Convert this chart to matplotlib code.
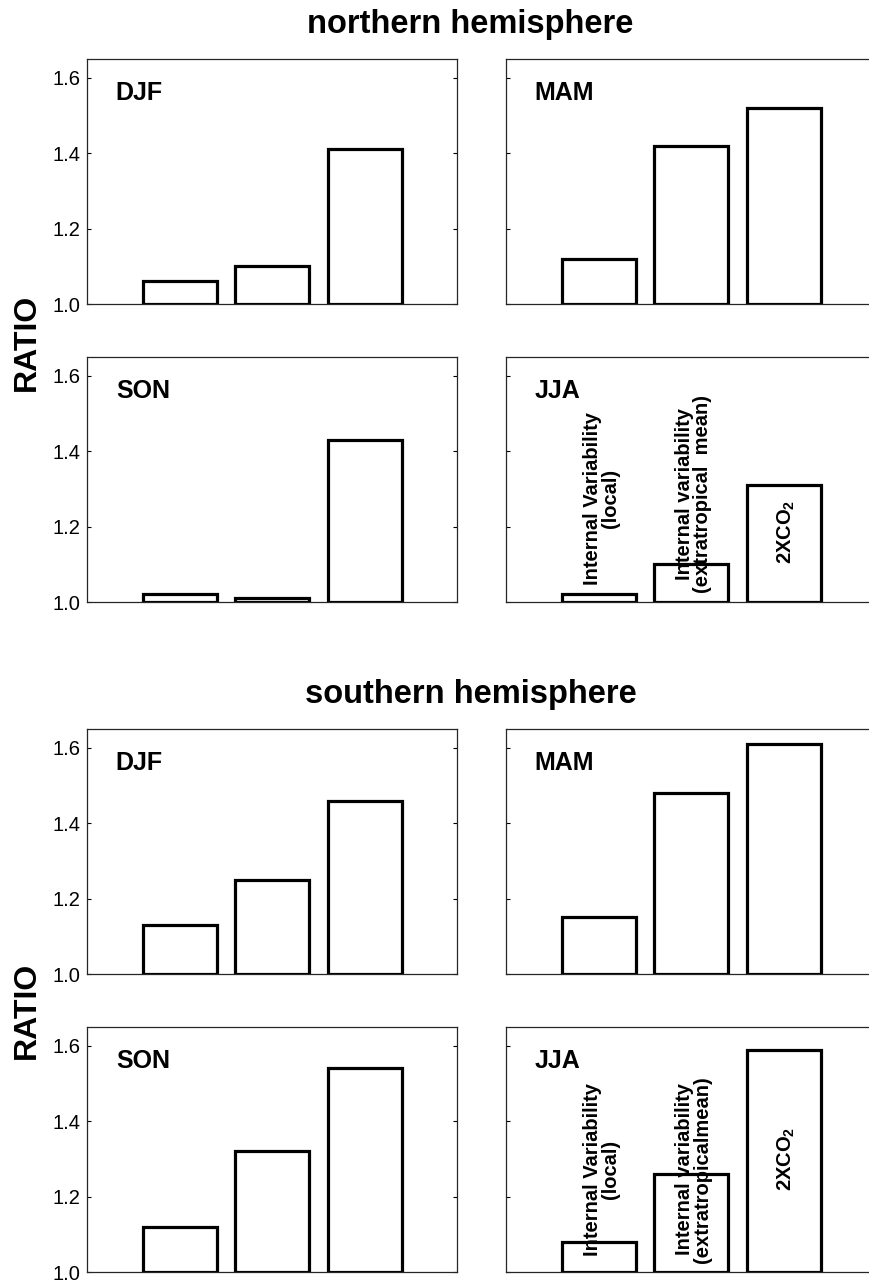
import numpy as np
import matplotlib
matplotlib.use('Agg')
import matplotlib.pyplot as plt

plt.rcParams['font.family'] = ['Liberation Sans', 'DejaVu Sans']
plt.rcParams['mathtext.fontset'] = 'custom'
plt.rcParams['mathtext.bf'] = 'Liberation Sans:bold'
plt.rcParams['mathtext.rm'] = 'Liberation Sans'

# Data: ratio for each season, three bars each
seasons = ['DJF', 'MAM', 'SON', 'JJA']
nh_vals = {
    'DJF': [1.06, 1.10, 1.41],
    'MAM': [1.12, 1.42, 1.52],
    'SON': [1.02, 1.01, 1.43],
    'JJA': [1.02, 1.10, 1.31],
}
sh_vals = {
    'DJF': [1.13, 1.25, 1.46],
    'MAM': [1.15, 1.48, 1.61],
    'SON': [1.12, 1.32, 1.54],
    'JJA': [1.08, 1.26, 1.59],
}
yticks = [1.0, 1.2, 1.4, 1.6]
nh_bar_labels = ['Internal Variability\n(local)',
                 'Internal variability\n(extratropical  mean)',
                 r'$\mathbf{2XCO_2}$']
sh_bar_labels = ['Internal Variability\n(local)',
                 'Internal variability\n(extratropicalmean)',
                 r'$\mathbf{2XCO_2}$']
# where the rotated labels start (data y)
nh_label_y = [1.045, 1.025, 1.10]
sh_label_y = [1.042, 1.025, 1.215]

W, H = 869, 1281
fig = plt.figure(figsize=(W / 100, H / 100), dpi=100)


def px_axes(x0, top, bottom, width=370):
    return fig.add_axes([x0 / W, 1 - bottom / H, width / W, (bottom - top) / H])


def draw_panel(ax, vals, name, left_labels):
    x = np.arange(1, len(vals) + 1)
    ax.bar(x, np.array(vals) - 1.0, bottom=1.0, width=0.8,
           facecolor='white', edgecolor='black', linewidth=2.3)
    ax.set_xlim(0, 4)
    ax.set_ylim(1.0, 1.65)
    ax.set_xticks([])
    ax.set_yticks(yticks)
    ax.tick_params(axis='y', direction='in', length=3, width=0.8,
                   right=True, labelsize=14.5, labelleft=left_labels, pad=5)
    ax.set_yticklabels(['%.1f' % t for t in yticks])
    for s in ax.spines.values():
        s.set_linewidth(0.9)
        s.set_color('0.15')
    ax.text(0.078, 0.86, name, transform=ax.transAxes, fontsize=18,
            fontweight='bold', va='center', ha='left')


# pixel layout: (left, top, bottom)
left_x, right_x = 87, 506
groups = [
    (nh_vals, nh_bar_labels, nh_label_y, [59, 357]),
    (sh_vals, sh_bar_labels, sh_label_y, [729, 1027]),
]
for vals, labels, label_y, tops in groups:
    for row, top in enumerate(tops):
        for col, xl in enumerate([left_x, right_x]):
            name = seasons[row * 2 + col]
            ax = px_axes(xl, top, top + 245)
            draw_panel(ax, vals[name], name, col == 0)
            if name == 'JJA':
                for i, (lab, ly) in enumerate(zip(labels, label_y)):
                    ax.text(i + 1.03, ly, lab, rotation=90, ha='center',
                            va='bottom', fontsize=14.5, fontweight='bold',
                            multialignment='center', linespacing=0.95)

fig.text(470 / W, 1 - 33 / H, 'northern hemisphere', ha='center',
         va='baseline', fontsize=23.5, fontweight='bold')
fig.text(471 / W, 1 - 703 / H, 'southern hemisphere', ha='center',
         va='baseline', fontsize=23.5, fontweight='bold')
fig.text(27 / W, 1 - 342 / H, 'RATIO', rotation=90, ha='center',
         va='center', fontsize=23, fontweight='bold')
fig.text(27 / W, 1 - 1010 / H, 'RATIO', rotation=90, ha='center',
         va='center', fontsize=23, fontweight='bold')

fig.savefig('out.png', dpi=100)
